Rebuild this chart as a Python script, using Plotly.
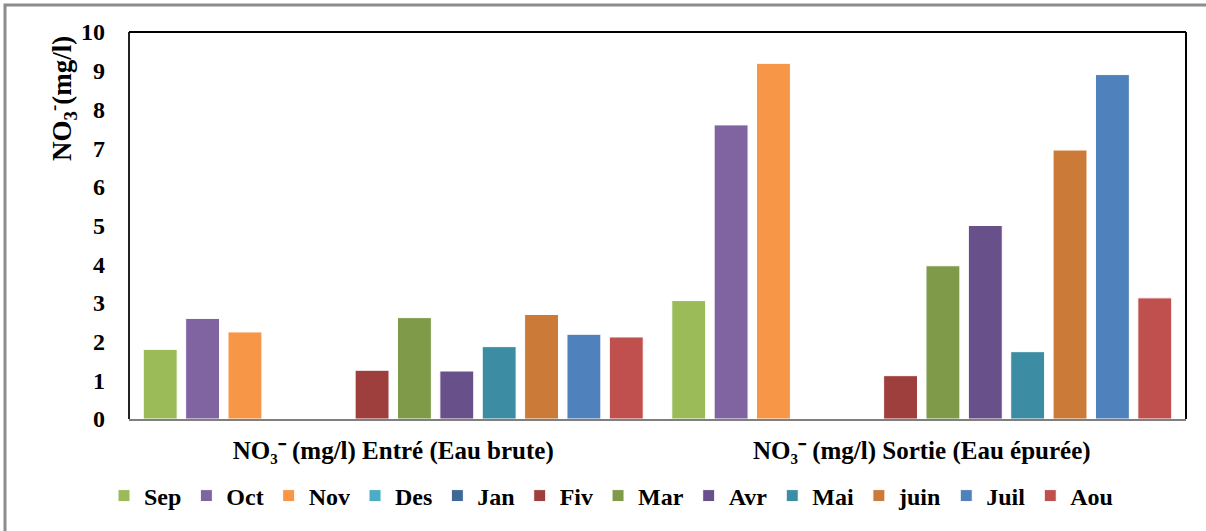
import plotly.graph_objects as go

categories = ["NO₃⁻ (mg/l) Entré (Eau brute)", "NO₃⁻ (mg/l) Sortie (Eau épurée)"]
months = ["Sep", "Oct", "Nov", "Des", "Jan", "Fiv", "Mar", "Avr", "Mai", "juin", "Juil", "Aou"]
entree = [1.80, 2.60, 2.25, 0, 0, 1.26, 2.62, 1.24, 1.87, 2.70, 2.19, 2.12]
sortie = [3.06, 7.60, 9.19, 0, 0, 1.12, 3.96, 5.00, 1.74, 6.95, 8.90, 3.13]
colors = ["#9BBB59", "#8064A2", "#F79646", "#4BACC6", "#3F6797", "#9E3F3E",
          "#7F9A48", "#68518A", "#3C8DA3", "#CB7B37", "#4F81BD", "#C0504D"]
y_title = "<b>NO<sub>3</sub><sup>-</sup>(mg/l)</b>"

FONT = "Times New Roman, Liberation Serif, serif"

fig = go.Figure()
for i, m in enumerate(months):
    fig.add_trace(go.Bar(
        name="<b>" + m + "</b>", x=categories, y=[entree[i], sortie[i]],
        marker=dict(color=colors[i], line=dict(color="white", width=1)),
    ))

L, R, T, B = 129, 20, 32, 112
W, H = 1206, 531
pw, ph = W - L - R, H - T - B

def px(x):
    return (x - L) / pw

def py(y):
    return (H - B - y) / ph

fig.update_layout(
    width=W, height=H,
    margin=dict(l=L, r=R, t=T, b=B, autoexpand=False),
    paper_bgcolor="white", plot_bgcolor="white",
    barmode="group", bargap=0.038, bargroupgap=0.2,
    font=dict(family=FONT, size=20, color="black"),
    showlegend=True,
    legend=dict(orientation="h", x=px(611), xanchor="center", y=py(496), yanchor="middle",
                font=dict(family=FONT, size=24, color="black"), itemwidth=30,
                traceorder="normal"),
    xaxis=dict(showline=True, linecolor="#7F7F7F", linewidth=2, ticks="",
               tickfont=dict(family=FONT, size=25, color="black"),
               tickprefix="<b>", ticksuffix="</b>",
               ticklabelstandoff=8, showgrid=False),
    yaxis=dict(range=[0, 10], dtick=1, showgrid=False, zeroline=False,
               showline=False, ticks="",
               tickfont=dict(family=FONT, size=24, color="black"),
               tickprefix="<b>", ticksuffix="</b>",
               ticklabelstandoff=23),
    annotations=[dict(text=y_title, xref="paper", yref="paper", x=px(62), y=py(99),
                      xanchor="center", yanchor="middle", textangle=-90, showarrow=False,
                      font=dict(family=FONT, size=27, color="black"))],
    shapes=[
        dict(type="line", xref="paper", yref="paper", x0=0, x1=0, y0=0, y1=1,
             line=dict(color="#222222", width=2)),
        dict(type="line", xref="paper", yref="paper", x0=0, x1=1, y0=1, y1=1,
             line=dict(color="black", width=2)),
        dict(type="line", xref="paper", yref="paper", x0=1, x1=1, y0=0, y1=1,
             line=dict(color="black", width=2)),
        dict(type="rect", xref="paper", yref="paper", x0=px(5), x1=px(1215), y0=py(540), y1=py(5),
             line=dict(color="#8C8C8C", width=3)),
    ],
)

fig.write_html("out.html", config={"displayModeBar": False},
               post_script="document.body.style.margin='0';document.body.style.overflow='hidden';")
